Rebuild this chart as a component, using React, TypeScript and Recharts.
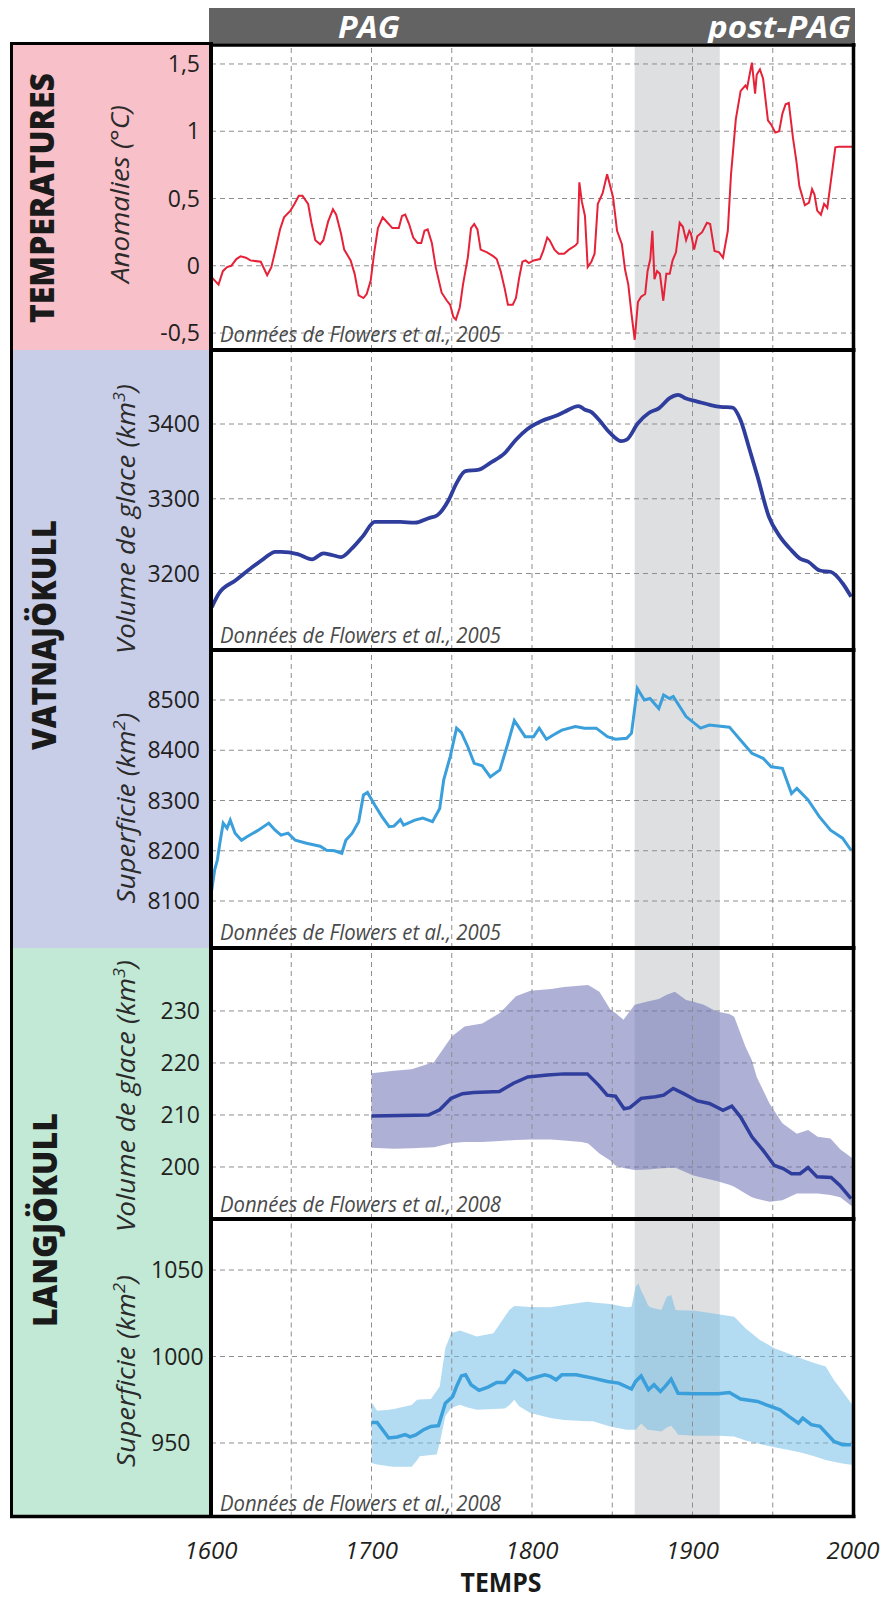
import React from 'react';
import { ComposedChart, Line, Area, XAxis, YAxis, CartesianGrid, ReferenceArea, ReferenceLine } from 'recharts';

// ---------------- DATA ----------------
const gridYears = [1650, 1700, 1750, 1800, 1850, 1900, 1950];
const xTickYears = [1600, 1700, 1800, 1900, 2000];
const shadedPeriod = [1864, 1917];

const tempTicks = [-0.5, 0, 0.5, 1, 1.5];
const vatnaVolumeTicks = [3200, 3300, 3400];
const vatnaAreaTicks = [8100, 8200, 8300, 8400, 8500];
const langVolumeTicks = [200, 210, 220, 230];
const langAreaTicks = [950, 1000, 1050];

// [year, anomaly °C]
const temperature: [number, number][] = [
  [1600.8, -0.09], [1604.7, -0.14], [1607.4, -0.04], [1610, -0.01], [1612.6, 0], [1615.8, 0.05], [1618.4, 0.07],
  [1621.8, 0.06], [1624.5, 0.04], [1631, 0.03], [1635, -0.07], [1637.6, -0.01], [1640, 0.11], [1643, 0.27],
  [1645.5, 0.36], [1649.5, 0.41], [1652, 0.46], [1654.7, 0.52], [1657, 0.52], [1660.5, 0.46], [1662.6, 0.32],
  [1665, 0.19], [1668, 0.16], [1670, 0.19], [1673, 0.33], [1676, 0.42], [1678, 0.38], [1681, 0.24], [1683, 0.12],
  [1687, 0.04], [1689.5, -0.06], [1692, -0.22], [1695, -0.24], [1697, -0.21], [1699.5, -0.11], [1701.6, 0.09],
  [1704, 0.28], [1707, 0.36], [1710, 0.32], [1713, 0.28], [1717, 0.28], [1719, 0.37], [1721, 0.38], [1723.4, 0.31],
  [1726, 0.21], [1728.7, 0.17], [1731, 0.17], [1733, 0.26], [1735, 0.27], [1737.6, 0.17], [1740, -0.01],
  [1743.7, -0.2], [1747, -0.26], [1749, -0.29], [1751, -0.38], [1752.6, -0.4], [1755, -0.31], [1757, -0.14],
  [1760, 0.06], [1762, 0.28], [1764, 0.31], [1766, 0.27], [1768, 0.12], [1772, 0.1], [1776, 0.07], [1778, 0.05],
  [1780.5, -0.04], [1783, -0.17], [1785, -0.29], [1788, -0.29], [1790, -0.24], [1792, -0.09], [1794, 0.03],
  [1796, 0.04], [1798, 0.02], [1801, 0.04], [1805, 0.05], [1807, 0.11], [1809.5, 0.21], [1811, 0.19], [1814, 0.12],
  [1816.6, 0.09], [1820, 0.09], [1823, 0.12], [1827, 0.15], [1828.4, 0.17], [1829.5, 0.62], [1831, 0.48],
  [1833, 0.37], [1834.7, -0.01], [1837, 0.03], [1839, 0.09], [1841, 0.46], [1844, 0.54], [1846.8, 0.68],
  [1849, 0.58], [1850.5, 0.51], [1853, 0.26], [1856, 0.16], [1858, -0.03], [1860, -0.14], [1862, -0.36],
  [1864, -0.55], [1866, -0.27], [1868, -0.23], [1870.5, -0.21], [1872, -0.04], [1873.7, 0.05], [1875, 0.26],
  [1876.3, -0.1], [1877.9, -0.04], [1879.7, -0.06], [1881.8, -0.26], [1883.7, -0.06], [1885.8, -0.06],
  [1887.6, 0.04], [1889.7, 0.1], [1892, 0.32], [1894, 0.29], [1896, 0.19], [1898, 0.26], [1899, 0.24],
  [1901, 0.12], [1903, 0.22], [1906, 0.25], [1909, 0.32], [1911, 0.31], [1913.7, 0.11], [1916.6, 0.1],
  [1919, 0.06], [1922, 0.26], [1924, 0.68], [1927, 1.09], [1930, 1.3], [1933, 1.34], [1934, 1.32], [1937, 1.51],
  [1939, 1.28], [1940, 1.42], [1942, 1.46], [1944, 1.39], [1947, 1.08], [1949, 1.05], [1951.6, 0.99], [1954, 1.0],
  [1956, 1.13], [1958, 1.2], [1960, 1.21], [1962.6, 0.95], [1964.7, 0.78], [1966.6, 0.59], [1970, 0.45],
  [1972.6, 0.47], [1974.5, 0.57], [1976, 0.53], [1977.7, 0.41], [1980, 0.38], [1982, 0.46], [1984, 0.43],
  [1986, 0.61], [1989, 0.88], [1991, 0.885], [2000, 0.885],
];

// [year, km3]
const vatnaVolume: [number, number][] = [
  [1600.5, 3155], [1604.8, 3173], [1615.4, 3191], [1626, 3209], [1633, 3220], [1640, 3229], [1643.6, 3229],
  [1654, 3226], [1663, 3219], [1670, 3227], [1675, 3225], [1681, 3222], [1688, 3234], [1695, 3251], [1702, 3269],
  [1709, 3269], [1718, 3269], [1727, 3268], [1735.5, 3274], [1741, 3278], [1748, 3298], [1753, 3321],
  [1758.5, 3337], [1767, 3339], [1774, 3348], [1783, 3361], [1790, 3379], [1797, 3393], [1806, 3404],
  [1815, 3411], [1820, 3416], [1829, 3424], [1833, 3419], [1837, 3416], [1841.6, 3406], [1848.6, 3388],
  [1855.7, 3377], [1859, 3379], [1866, 3401], [1873, 3415], [1879, 3421], [1886, 3435], [1891, 3439],
  [1896, 3434], [1903, 3430], [1912, 3425], [1917.5, 3423], [1925, 3422], [1929.8, 3406], [1935, 3370],
  [1940.5, 3330], [1947.6, 3276], [1954.6, 3249], [1961.7, 3231], [1967, 3220], [1972, 3216], [1979.4, 3204],
  [1986.4, 3202], [1993.5, 3187], [1998.8, 3169],
];

// [year, km2]
const vatnaArea: [number, number][] = [
  [1600, 8112], [1602.3, 8162], [1604, 8182], [1605.5, 8215], [1607.6, 8255], [1610, 8245], [1612, 8261],
  [1615, 8235], [1619, 8221], [1622.4, 8228], [1629, 8240], [1636, 8255], [1640, 8241], [1643.6, 8231],
  [1648, 8235], [1652.5, 8221], [1659.5, 8215], [1668, 8209], [1672, 8201], [1677, 8200], [1681.5, 8195],
  [1684, 8221], [1688, 8235], [1692, 8258], [1695, 8311], [1697.5, 8316], [1702, 8291], [1706.5, 8268],
  [1711, 8248], [1714, 8249], [1718, 8262], [1720, 8251], [1727, 8261], [1732, 8265], [1738, 8258],
  [1742.5, 8284], [1745, 8341], [1749, 8387], [1753, 8444], [1756, 8435], [1760, 8407], [1764, 8374],
  [1769, 8369], [1774, 8347], [1780, 8361], [1785, 8414], [1789, 8459], [1795.7, 8427], [1801, 8427],
  [1804.5, 8444], [1809, 8422], [1813, 8430], [1818.6, 8440], [1827, 8447], [1832.7, 8444], [1840, 8444],
  [1847, 8427], [1852, 8422], [1859, 8424], [1862, 8434], [1865.6, 8523], [1870, 8500], [1873.5, 8503],
  [1879, 8483], [1882, 8510], [1885.6, 8503], [1888, 8507], [1896, 8467], [1905, 8444], [1910.5, 8450],
  [1923, 8446], [1930, 8420], [1937, 8394], [1944, 8384], [1949, 8367], [1956, 8364], [1961.7, 8314],
  [1965, 8324], [1972, 8301], [1979, 8268], [1986, 8241], [1993.5, 8225], [1998.8, 8201],
];

// [year, km3]
const langVolume: [number, number][] = [
  [1700, 209.8], [1735.5, 210], [1742.5, 211], [1749.6, 213.2], [1756.7, 214.1], [1763.8, 214.3],
  [1779.7, 214.5], [1788.5, 216.1], [1797.4, 217.3], [1809.7, 217.7], [1820, 217.9], [1834.5, 217.9],
  [1841.6, 215.7], [1846.8, 213.8], [1852, 213.6], [1857.4, 211.2], [1861, 211.4], [1868, 213.2], [1877, 213.5],
  [1882, 213.8], [1888, 215.1], [1894.5, 214.1], [1903, 212.7], [1910.5, 212.2], [1919, 210.9], [1924.5, 211.7],
  [1930, 209.6], [1937, 205.8], [1944, 203.2], [1951, 200.3], [1956.5, 199.7], [1961.7, 198.7], [1967, 198.7],
  [1972, 199.9], [1977.6, 198.1], [1986.4, 198], [1991.7, 196.5], [1998.8, 193.9],
];

// [year, low, high]
const langVolumeBand: [number, number, number][] = [
  [1700, 203.7, 218], [1714, 203.5, 218.5], [1725, 203.6, 218.8], [1739, 203.8, 220.2], [1750, 204.6, 225.1],
  [1758, 204.8, 227], [1769, 204.8, 227.6], [1780, 205, 229.6], [1790, 205.2, 232.8], [1799, 205.3, 233.9],
  [1812, 205.3, 234.2], [1820, 205.1, 234.6], [1831, 204.8, 234.9], [1835, 204.5, 235], [1842, 202.6, 233.7],
  [1849, 201.2, 230.2], [1852, 200.3, 229.6], [1857, 199.8, 228.3], [1864, 199.4, 231.2], [1872, 199.5, 231.8],
  [1879, 199.7, 232.3], [1884, 199.8, 233.1], [1889, 199.9, 233.7], [1896, 199, 232.1], [1900, 198.4, 231.8],
  [1907, 197.9, 231.2], [1915, 197.3, 229.9], [1923, 196.6, 229.4], [1926, 196.2, 228.9], [1933, 194.9, 223.1],
  [1937, 194.2, 220.5], [1940, 193.9, 217.3], [1948, 193.3, 212.2], [1956, 193.6, 208.4], [1965, 194.9, 206.4],
  [1972, 194.9, 207.1], [1978, 194.9, 205.8], [1986, 194.6, 205.5], [1992, 194.2, 203.4], [2000, 192.3, 201.6],
];

// [year, km2]
const langArea: [number, number][] = [
  [1700, 961.9], [1703.5, 961.9], [1710.7, 952.9], [1716, 953.5], [1721, 954.8], [1724, 953.5], [1727.6, 954.6],
  [1732.5, 957.7], [1737, 959.6], [1741.7, 960], [1746, 973], [1750.6, 976.9], [1753, 982.7], [1756, 988.8],
  [1758.6, 989.4], [1762, 983.7], [1767, 980.4], [1772.6, 982.3], [1778, 985], [1783, 985], [1789, 991.7],
  [1792, 990.4], [1797, 986.5], [1802.6, 988], [1808, 989.4], [1811.5, 988.5], [1815, 986.5], [1818.6, 989.4],
  [1827.5, 989.4], [1838, 987.5], [1847, 985.6], [1854, 984.6], [1862, 981.2], [1864.6, 985.6], [1868, 988.8],
  [1872.6, 980.8], [1876, 983.7], [1880, 979.8], [1883, 982.7], [1886.7, 986.9], [1891, 978.8], [1901.6, 978.5],
  [1916, 978.5], [1923, 979.2], [1930, 975.4], [1940.5, 974], [1946, 972.1], [1954.6, 969.2], [1960, 965.4],
  [1966, 961.5], [1968.7, 964.4], [1974, 960.6], [1979.4, 959.6], [1988, 951], [1993.5, 949], [1998.8, 949],
];

// [year, low, high]
const langAreaBand: [number, number, number][] = [
  [1700, 938.5, 973.5], [1703.5, 937.5, 968.7], [1711, 936.5, 969.2], [1714, 936.3, 969.6], [1725, 936.2, 972],
  [1728.4, 940, 975], [1730, 942.3, 975.2], [1737, 943, 975.4], [1740.6, 943.3, 980], [1742.5, 950, 982.7],
  [1746, 965.4, 1004.8], [1749.6, 970.2, 1013.5], [1755, 972.1, 1015], [1760, 970.5, 1013.5],
  [1765.6, 969.2, 1011.5], [1776, 969.6, 1013.5], [1783, 970, 1023], [1786, 972, 1027], [1789, 975, 1029.2],
  [1792, 971.2, 1029], [1799, 967.3, 1028.6], [1811.5, 964.5, 1028.5], [1820, 963.3, 1029.8],
  [1834.5, 962.6, 1031.7], [1838, 962.5, 1031.2], [1848.6, 959.6, 1030.4], [1859, 957.7, 1028.5],
  [1862, 957.7, 1028.8], [1864.6, 957.7, 1040.4], [1866.3, 959.5, 1042.3], [1868, 961.2, 1038],
  [1870, 959.5, 1034.6], [1872, 957.7, 1030], [1873.5, 957.5, 1028.5], [1880.6, 956.7, 1026.9],
  [1884, 959, 1034.6], [1886.7, 960, 1035.6], [1889.5, 957, 1026.9], [1891, 954.8, 1026.8],
  [1901.6, 954.2, 1026.5], [1916, 954.2, 1024.4], [1926, 953.8, 1023], [1933, 951.5, 1016.3],
  [1942, 949.4, 1009.6], [1951, 947.5, 1004.8], [1961.7, 945.6, 1001], [1968.7, 944.2, 998.6],
  [1975.8, 942.3, 996.2], [1983, 940.2, 994.2], [1988, 939.1, 986.5], [1993.5, 938.2, 979.8], [2000, 937.3, 971.5],
];

// ---------------- STYLE / LAYOUT ----------------
const FONT = "'Open Sans', 'Noto Sans', 'DejaVu Sans', sans-serif";
const TEXT = '#231f20';
const GRID = '#8e8e8e';
const CHART_W = 887;

const toLine = (arr: [number, number][]) => arr.map(([x, v]) => ({ x, v }));
const toBand = (arr: [number, number, number][]) => arr.map(([x, lo, hi]) => ({ x, range: [lo, hi] }));
const comma = (v: number) => String(v).replace('.', ',');

type PanelProps = {
  top: number;
  bottom: number;
  domain: [number, number];
  ticks: number[];
  showX?: boolean;
  startAnchor?: boolean;
  formatter?: (v: number) => string;
  children?: React.ReactNode;
};

function StartTick(props: any) {
  const { x, y, payload } = props;
  return (
    <text x={x - 49} y={y} dy="0.36em" textAnchor="start" fontSize={23} fill={TEXT} fontFamily={FONT}>
      {payload.value}
    </text>
  );
}

function Panel({ top, bottom, domain, ticks, showX, startAnchor, formatter, children }: PanelProps) {
  const h = bottom - top;
  const axisH = showX ? 60 : 0;
  return (
    <div style={{ position: 'absolute', left: 0, top, width: CHART_W, height: h + axisH }}>
      <ComposedChart width={CHART_W} height={h + axisH} margin={{ top: 0, right: 34, bottom: 0, left: 0 }}>
        <XAxis
          type="number"
          dataKey="x"
          domain={[1600, 2000]}
          allowDataOverflow
          ticks={xTickYears}
          interval={0}
          hide={!showX}
          height={axisH}
          tickLine={false}
          axisLine={false}
          tickSize={0}
          tickMargin={25}
          tick={{ fontSize: 24, fontStyle: 'italic', fill: TEXT, fontFamily: FONT }}
        />
        <YAxis
          type="number"
          domain={domain}
          allowDataOverflow
          ticks={ticks}
          interval={0}
          width={211}
          tickLine={false}
          axisLine={false}
          tickSize={0}
          tickMargin={11}
          tickFormatter={formatter}
          tick={startAnchor ? <StartTick /> : { fontSize: 23, fill: TEXT, fontFamily: FONT }}
        />
        <CartesianGrid vertical={false} stroke={GRID} strokeDasharray="5 4" />
        {gridYears.map((yr) => (
          <ReferenceLine key={yr} x={yr} stroke={GRID} strokeDasharray="5 4" />
        ))}
        <ReferenceArea x1={shadedPeriod[0]} x2={shadedPeriod[1]} fill="#8a8c95" fillOpacity={0.28} stroke="none" />
        {children}
      </ComposedChart>
    </div>
  );
}

const SEP = [45, 350, 650, 948, 1219, 1516.5];

function RotLabel({ x, y, len, size, bold, italic, children }: any) {
  return (
    <text
      transform={`translate(${x},${y}) rotate(-90)`}
      textAnchor="middle"
      fontSize={size}
      fontWeight={bold ? 800 : 400}
      fontStyle={italic ? 'italic' : 'normal'}
      fill={bold ? '#1a1a1a' : '#2b2b2b'}
      fontFamily={FONT}
      textLength={len}
      lengthAdjust="spacingAndGlyphs"
    >
      {children}
    </text>
  );
}

function Note({ y, text }: { y: number; text: string }) {
  return (
    <text x={220} y={y} fontSize={21} fontStyle="italic" fill="#4a4a4a" fontFamily={FONT} textLength={281} lengthAdjust="spacingAndGlyphs">
      {text}
    </text>
  );
}

export default function App() {
  const tempData = toLine(temperature);
  const vvData = toLine(vatnaVolume);
  const vaData = toLine(vatnaArea);
  const lvData = toLine(langVolume);
  const lvBand = toBand(langVolumeBand);
  const laData = toLine(langArea);
  const laBand = toBand(langAreaBand);

  return (
    <div style={{ position: 'absolute', left: 0, top: 0, width: 887, height: 1600, background: '#fff', fontFamily: FONT }}>
      {/* backgrounds */}
      <svg width={887} height={1600} style={{ position: 'absolute', left: 0, top: 0 }}>
        <rect x={11.5} y={43.5} width={199.5} height={SEP[1] - 43.5} fill="#f8c0c8" />
        <rect x={11.5} y={SEP[1]} width={199.5} height={SEP[3] - SEP[1]} fill="#c9cee8" />
        <rect x={11.5} y={SEP[3]} width={199.5} height={SEP[5] - SEP[3]} fill="#c2e9d6" />
        <rect x={209} y={8} width={646} height={35} fill="#636363" />
      </svg>

      <Panel top={SEP[0]} bottom={SEP[1]} domain={[-0.626, 1.641]} ticks={tempTicks} formatter={comma}>
        <Line data={tempData} dataKey="v" type="linear" stroke="#e52238" strokeWidth={2} dot={false} isAnimationActive={false} />
      </Panel>
      <Panel top={SEP[1]} bottom={SEP[2]} domain={[3097.7, 3499]} ticks={vatnaVolumeTicks}>
        <Line data={vvData} dataKey="v" type="monotone" stroke="#2f3e9c" strokeWidth={3.8} dot={false} isAnimationActive={false} />
      </Panel>
      <Panel top={SEP[2]} bottom={SEP[3]} domain={[8006.5, 8599.5]} ticks={vatnaAreaTicks}>
        <Line data={vaData} dataKey="v" type="linear" stroke="#3a9fdb" strokeWidth={3} dot={false} isAnimationActive={false} />
      </Panel>
      <Panel top={SEP[3]} bottom={SEP[4]} domain={[190, 242.1]} ticks={langVolumeTicks}>
        <Area data={lvBand} dataKey="range" type="linear" stroke="none" fill="#6e72b6" fillOpacity={0.56} isAnimationActive={false} />
        <Line data={lvData} dataKey="v" type="linear" stroke="#2f3e9c" strokeWidth={3.5} dot={false} isAnimationActive={false} />
      </Panel>
      <Panel top={SEP[4]} bottom={SEP[5]} domain={[907.5, 1079.5]} ticks={langAreaTicks} showX startAnchor>
        <Area data={laBand} dataKey="range" type="linear" stroke="none" fill="#74bde8" fillOpacity={0.55} isAnimationActive={false} />
        <Line data={laData} dataKey="v" type="linear" stroke="#3a9fdb" strokeWidth={3.5} dot={false} isAnimationActive={false} />
      </Panel>

      {/* frame & labels */}
      <svg width={887} height={1600} style={{ position: 'absolute', left: 0, top: 0, pointerEvents: 'none' }}>
        <text x={369} y={38} textAnchor="middle" fontSize={31} fontWeight={700} fontStyle="italic" fill="#fff" fontFamily={FONT} textLength={62} lengthAdjust="spacingAndGlyphs">PAG</text>
        <text x={851} y={38} textAnchor="end" fontSize={31} fontWeight={700} fontStyle="italic" fill="#fff" fontFamily={FONT} textLength={143} lengthAdjust="spacingAndGlyphs">post-PAG</text>

        <line x1={11.5} y1={42} x2={11.5} y2={1518} stroke="#000" strokeWidth={3} />
        <line x1={10} y1={43.5} x2={213} y2={43.5} stroke="#000" strokeWidth={3} />
        <line x1={209} y1={45} x2={855.5} y2={45} stroke="#000" strokeWidth={3.5} />
        <line x1={211} y1={42} x2={211} y2={1518} stroke="#000" strokeWidth={4} />
        <line x1={853.5} y1={43} x2={853.5} y2={1518} stroke="#000" strokeWidth={3.5} />
        {SEP.slice(1, 5).map((s) => (
          <line key={s} x1={209} y1={s} x2={855.5} y2={s} stroke="#000" strokeWidth={4} />
        ))}
        <line x1={10} y1={SEP[5]} x2={855.5} y2={SEP[5]} stroke="#000" strokeWidth={3.5} />

        <RotLabel x={54} y={198} len={250} size={34} bold>TEMPERATURES</RotLabel>
        <RotLabel x={56} y={635} len={230} size={34} bold>VATNAJÖKULL</RotLabel>
        <RotLabel x={57} y={1220} len={214} size={34} bold>LANGJÖKULL</RotLabel>

        <RotLabel x={129} y={194} len={178} size={26} italic>Anomalies (°C)</RotLabel>
        <RotLabel x={135} y={519} len={270} size={26} italic>
          Volume de glace (km<tspan dy={-10} fontSize={17}>3</tspan><tspan dy={10}>)</tspan>
        </RotLabel>
        <RotLabel x={135} y={808} len={191} size={26} italic>
          Superficie (km<tspan dy={-10} fontSize={17}>2</tspan><tspan dy={10}>)</tspan>
        </RotLabel>
        <RotLabel x={135} y={1096} len={272} size={26} italic>
          Volume de glace (km<tspan dy={-10} fontSize={17}>3</tspan><tspan dy={10}>)</tspan>
        </RotLabel>
        <RotLabel x={135} y={1371} len={192} size={26} italic>
          Superficie (km<tspan dy={-10} fontSize={17}>2</tspan><tspan dy={10}>)</tspan>
        </RotLabel>

        <Note y={SEP[1] - 8} text="Données de Flowers et al., 2005" />
        <Note y={SEP[2] - 7} text="Données de Flowers et al., 2005" />
        <Note y={SEP[3] - 8} text="Données de Flowers et al., 2005" />
        <Note y={SEP[4] - 7} text="Données de Flowers et al., 2008" />
        <Note y={SEP[5] - 6} text="Données de Flowers et al., 2008" />

        <text x={501} y={1592} textAnchor="middle" fontSize={26} fontWeight={700} fill="#1a1a1a" fontFamily={FONT} textLength={81} lengthAdjust="spacingAndGlyphs">TEMPS</text>
      </svg>
    </div>
  );
}
